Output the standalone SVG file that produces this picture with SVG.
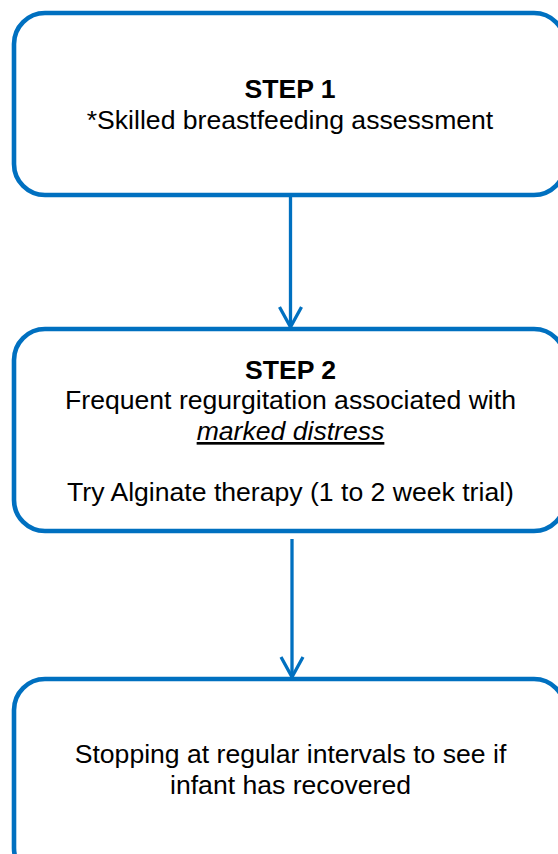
<svg xmlns="http://www.w3.org/2000/svg" width="558" height="854" viewBox="0 0 558 854">
<style>
.box{fill:#fff;stroke:#0070C0;stroke-width:4.6}
.t{font-family:"Liberation Sans",Arial,sans-serif;font-size:26.6px;fill:#000;text-anchor:middle}
.b{font-weight:bold}
.conn{stroke:#0070C0;stroke-width:3.3;fill:none}
</style>
<defs>
<marker id="arr" markerWidth="24" markerHeight="26" refX="21" refY="12" orient="auto" markerUnits="userSpaceOnUse" viewBox="0 0 24 24">
<path d="M1,1 L21,12 L1,23" fill="none" stroke="#0070C0" stroke-width="3.3"/>
</marker>
</defs>
<rect width="558" height="854" fill="#fff"/>
<g id="connectors">
<line class="conn" x1="290.5" y1="197" x2="290.5" y2="327" marker-end="url(#arr)"/>
<line class="conn" x1="292" y1="539" x2="292" y2="677" marker-end="url(#arr)"/>
</g>
<g id="step1">
<rect class="box" x="14" y="13" width="551" height="182" rx="31" ry="31"/>
<text class="t b" x="290" y="98">STEP 1</text>
<text class="t" x="290" y="129">*Skilled breastfeeding assessment</text>
</g>
<g id="step2">
<rect class="box" x="14" y="329" width="551" height="202" rx="31" ry="31"/>
<text class="t b" x="290.5" y="378.5">STEP 2</text>
<text class="t" x="290.5" y="409">Frequent regurgitation associated with</text>
<text class="t" x="290.5" y="440" font-style="italic" text-decoration="underline">marked distress</text>
<text class="t" x="290.5" y="501">Try Alginate therapy (1 to 2 week trial)</text>
</g>
<g id="step3">
<rect class="box" x="14" y="679" width="551" height="200" rx="31" ry="31"/>
<text class="t" x="290.5" y="763">Stopping at regular intervals to see if</text>
<text class="t" x="290.5" y="794">infant has recovered</text>
</g>
</svg>
